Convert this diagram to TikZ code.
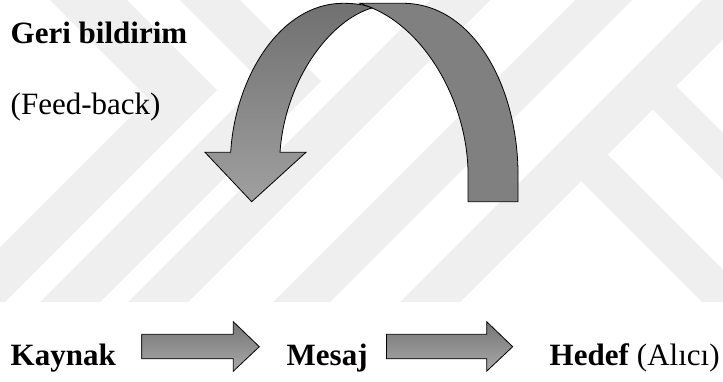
\documentclass[tikz,border=0pt]{standalone}
\usepackage{fontspec}
\setmainfont{Liberation Serif}
\definecolor{wm}{RGB}{239,239,239}
\definecolor{bandback}{RGB}{128,128,128}
\begin{document}
\begin{tikzpicture}[x=1pt,y=-1pt,
  wmband/.style={fill=wm,draw=none},
  lbl/.style={inner sep=0pt,anchor=base west,font=\fontsize{31}{36}\selectfont},
  flatarrow/.style={draw=black,line width=0.8pt,line join=miter,top color=gray!92!black!100,bottom color=gray!68,shading angle=0},
  ribbonback/.style={draw=black,line width=0.8pt,fill=bandback},
  ribbonfront/.style={draw=black,line width=0.8pt,top color=gray!88!black,bottom color=gray!75}]
\useasboundingbox (0,0) rectangle (723,381);
% watermark
\begin{scope}
\clip (0,0) rectangle (723,302);
\fill[wmband] (430,0) -- (490,0) -- (188,302) -- (128,302) -- cycle;
\fill[wmband] (575,0) -- (632,0) -- (330,302) -- (273,302) -- cycle;
\fill[wmband] (702,0) -- (762,0) -- (460,302) -- (400,302) -- cycle;
\fill[wmband] (581,181) -- (607.5,154.5) -- (755,302) -- (702,302) -- cycle;
\fill[wmband] (652.5,109.5) -- (676,86) -- (892,302) -- (845,302) -- cycle;
\fill[wmband] (50,0) -- (127,0) -- (217,90) -- (5,302) -- (-55,302) -- (148.5,98.5) -- cycle;
\fill[wmband] (180,0) -- (240,0) -- (321,81) -- (100,302) -- (40,302) -- (261,81) -- cycle;
\end{scope}
% curved feedback arrow
\coordinate (cross) at (372,8);
\draw[ribbonback] (cross) .. controls (425,30) and (466,100) .. (468,170) -- (468,201.7) -- (518,201.7) -- (518,170)
  .. controls (516,80) and (470,3.3) .. (403,3.3) -- (360,3.3) -- cycle;
\draw[ribbonfront] (280,152.3) -- (306,152.3) -- (251.7,201.7) -- (205,152.3) -- (230.7,152.3)
  .. controls (235,78) and (280,3.3) .. (343,3.3) .. controls (356,3.3) and (366,5) .. (cross)
  .. controls (330,20) and (285,80) .. cycle;
% labels
\node[lbl,font=\fontsize{31}{36}\selectfont\bfseries] (geri) at (10.5,43.3) {Geri bildirim};
\node[lbl] (feed) at (10.5,114) {(Feed-back)};
\node[lbl,font=\fontsize{31}{36}\selectfont\bfseries] (kaynak) at (10.5,365) {Kaynak};
\node[lbl,font=\fontsize{31}{36}\selectfont\bfseries] (mesaj) at (286.5,365) {Mesaj};
\node[lbl] (hedef) at (549.5,365) {\textbf{Hedef} (Alıcı)};
% straight arrows
\draw[flatarrow] (141.7,334.3) -- (233.3,334.3) -- (233.3,321.7) -- (259.3,346.7) -- (233.3,371.2) -- (233.3,358.8) -- (141.7,358.8) -- cycle;
\draw[flatarrow] (386.5,334.3) -- (486.7,334.3) -- (486.7,321.7) -- (512.7,346.7) -- (486.7,371.2) -- (486.7,358.8) -- (386.5,358.8) -- cycle;
\end{tikzpicture}
\end{document}
